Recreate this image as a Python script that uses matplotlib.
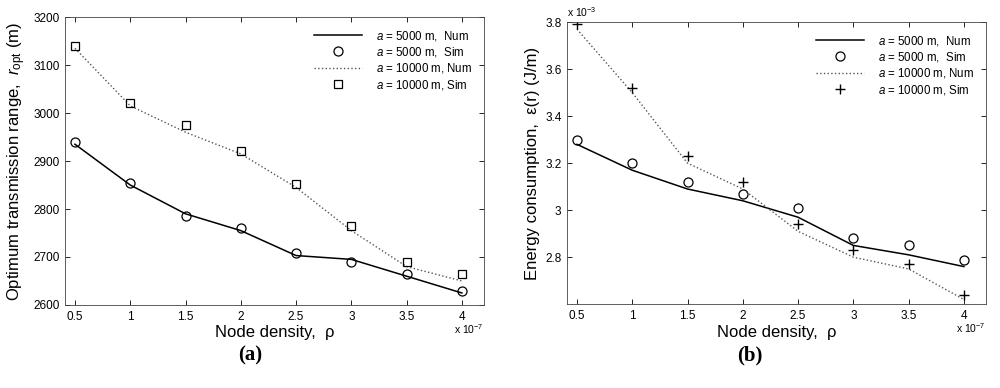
"""Optimum transmission range and energy consumption versus node density."""

import matplotlib

matplotlib.use("Agg")
import matplotlib.pyplot as plt

plt.rcParams["font.family"] = ["Liberation Sans", "DejaVu Sans"]
plt.rcParams["mathtext.fontset"] = "custom"
plt.rcParams["mathtext.rm"] = "Liberation Sans"
plt.rcParams["mathtext.it"] = "Liberation Sans:italic"

# node density (x 1e-7)
density = [0.5, 1.0, 1.5, 2.0, 2.5, 3.0, 3.5, 4.0]

# (a) optimum transmission range (m)
r_5000_num = [2935, 2850, 2790, 2755, 2703, 2695, 2660, 2625]
r_5000_sim = [2940, 2855, 2785, 2760, 2708, 2690, 2665, 2630]
r_10000_num = [3135, 3015, 2960, 2915, 2845, 2755, 2680, 2650]
r_10000_sim = [3140, 3020, 2975, 2920, 2852, 2765, 2690, 2665]

# (b) energy consumption (x 1e-3 J/m)
e_5000_num = [3.28, 3.17, 3.09, 3.04, 2.97, 2.85, 2.81, 2.76]
e_5000_sim = [3.30, 3.20, 3.12, 3.07, 3.01, 2.88, 2.85, 2.79]
e_10000_num = [3.77, 3.50, 3.20, 3.09, 2.91, 2.80, 2.75, 2.62]
e_10000_sim = [3.79, 3.52, 3.23, 3.12, 2.94, 2.83, 2.77, 2.64]

labels = [
    "$a$ = 5000 m,  Num",
    "$a$ = 5000 m,  Sim",
    "$a$ = 10000 m, Num",
    "$a$ = 10000 m, Sim",
]


def style_axes(ax):
    ax.set_xlim(0.41, 4.2)
    ax.set_xticks(density)
    ax.set_xticklabels(["0.5", "1", "1.5", "2", "2.5", "3", "3.5", "4"])
    ax.tick_params(direction="in", top=True, right=True, labelsize=8.5,
                   length=3.5, width=0.6, pad=4)
    for spine in ax.spines.values():
        spine.set_linewidth(0.6)
        spine.set_color("#444444")
    ax.set_xlabel("Node density,  \u03c1", fontsize=12, labelpad=2)
    ax.text(1.0, -0.06, "x 10$^{-7}$", transform=ax.transAxes, fontsize=7.5,
            ha="right", va="top")
    ax.legend(loc="upper right", frameon=False, fontsize=8.3, handlelength=4.2,
              borderaxespad=0.6, labelspacing=0.2, handletextpad=1.2)


fig = plt.figure(figsize=(10, 3.88), dpi=100)
ax1 = fig.add_axes([0.065, 0.214, 0.419, 0.742])
ax2 = fig.add_axes([0.567, 0.216, 0.419, 0.727])

ax1.plot(density, r_5000_num, "-", color="black", lw=1.1, label=labels[0])
ax1.plot(density, r_5000_sim, "o", mfc="none", mec="black", ms=6.5, mew=0.9,
         label=labels[1])
ax1.plot(density, r_10000_num, ":", color="#555555", lw=1.0, label=labels[2])
ax1.plot(density, r_10000_sim, "s", mfc="none", mec="black", ms=5.5, mew=0.9,
         label=labels[3])
ax1.set_ylim(2600, 3200)
ax1.set_yticks([2600, 2700, 2800, 2900, 3000, 3100, 3200])
ax1.set_ylabel("Optimum transmission range,  $r_{\\rm opt}$ (m)", fontsize=12)
style_axes(ax1)

ax2.plot(density, e_5000_num, "-", color="black", lw=1.1, label=labels[0])
ax2.plot(density, e_5000_sim, "o", mfc="none", mec="black", ms=6.5, mew=0.9,
         label=labels[1])
ax2.plot(density, e_10000_num, ":", color="#555555", lw=1.0, label=labels[2])
ax2.plot(density, e_10000_sim, "+", color="black", ms=7, mew=1.0,
         label=labels[3])
ax2.set_ylim(2.6, 3.8)
ax2.set_yticks([2.8, 3.0, 3.2, 3.4, 3.6, 3.8])
ax2.set_yticklabels(["2.8", "3", "3.2", "3.4", "3.6", "3.8"])
ax2.set_ylabel("Energy consumption,  \u03b5(r) (J/m)", fontsize=12)
ax2.text(0.0, 1.01, "x 10$^{-3}$", transform=ax2.transAxes, fontsize=7.5,
         ha="left", va="bottom")
style_axes(ax2)

fig.text(0.25, 0.085, "(a)", fontsize=15, fontweight="bold",
         family="Liberation Serif", ha="center", va="center")
fig.text(0.75, 0.085, "(b)", fontsize=15, fontweight="bold",
         family="Liberation Serif", ha="center", va="center")

fig.savefig("out.png", dpi=100)
plt.close(fig)
